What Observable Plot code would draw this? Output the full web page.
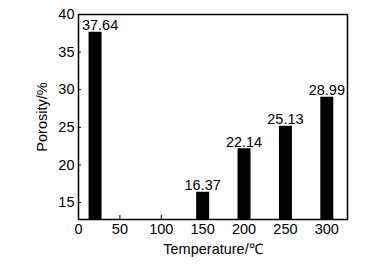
<!DOCTYPE html>
<html>
<head>
<meta charset="utf-8">
<script src="https://cdn.jsdelivr.net/npm/d3@7"></script>
<script src="https://cdn.jsdelivr.net/npm/@observablehq/plot@0.6"></script>
<style>
  html, body { margin: 0; padding: 0; background: #fff; }
  svg { display: block; }
</style>
</head>
<body>
<div id="chart"></div>
<script>
const temperatures = [20, 150, 200, 250, 300];
const porosity = [37.64, 16.37, 22.14, 25.13, 28.99];
const xTicks = [0, 50, 100, 150, 200, 250, 300];
const yTicks = [15, 20, 25, 30, 35, 40];

const yMin = 12.75;
const data = temperatures.map((t, i) => ({t, p: porosity[i], label: porosity[i].toFixed(2), i}));

const chart = Plot.plot({
  width: 377,
  height: 266,
  marginLeft: 78,
  marginRight: 30,
  marginTop: 14,
  marginBottom: 47,
  style: {fontFamily: "'Liberation Sans', Arial, sans-serif", fontSize: "14.5px", color: "#000", background: "#fff"},
  x: {domain: [0, 325]},
  y: {domain: [yMin, 40]},
  marks: [
    Plot.ruleX(data, {x: "t", y1: yMin, y2: "p", stroke: "#000", strokeWidth: 13}),
    Plot.text(data.filter(d => d.i === 0), {x: "t", y: "p", text: "label", lineAnchor: "bottom", dy: -2, dx: 5, fill: "#000", fontSize: 14.5}),
    Plot.text(data.filter(d => d.i !== 0), {x: "t", y: "p", text: "label", lineAnchor: "bottom", dy: -2, fill: "#000", fontSize: 14.5}),
    Plot.tickX(xTicks.filter(v => v > 0), {x: d => d, insetTop: 201, stroke: "#000", strokeWidth: 1}),
    Plot.tickY(yTicks.filter(v => v < 40), {y: d => d, insetRight: 266, stroke: "#000", strokeWidth: 1}),
    Plot.axisX({ticks: xTicks, tickSize: 0, tickPadding: 4, fontSize: 14.5, label: "Temperature/\u2103", labelArrow: "none", labelAnchor: "center", labelOffset: 34}),
    Plot.axisY({ticks: yTicks, tickSize: 0, tickPadding: 4, fontSize: 14.5, label: "Porosity/%", labelArrow: "none", labelAnchor: "center", labelOffset: 42}),
    Plot.frame({stroke: "#000", strokeWidth: 1.5})
  ]
});
document.getElementById("chart").appendChild(chart);
</script>
</body>
</html>
